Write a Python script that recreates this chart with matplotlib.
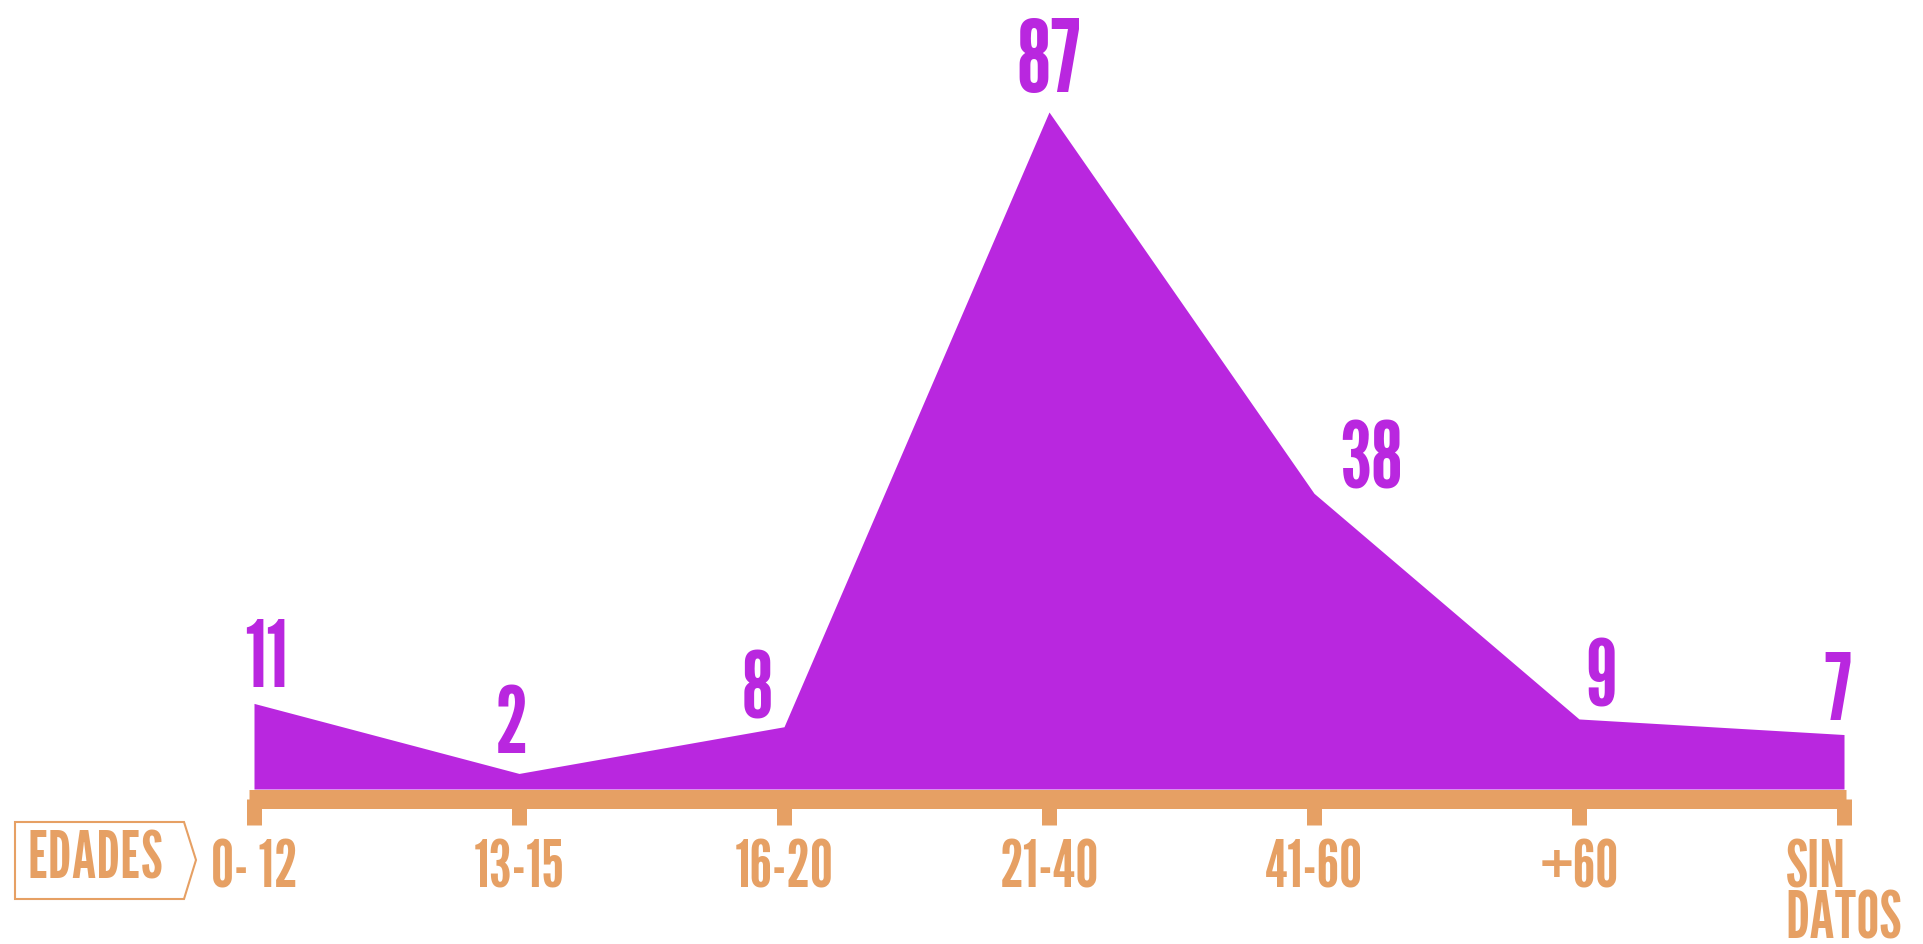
import matplotlib
matplotlib.use("Agg")
import matplotlib.pyplot as plt
from matplotlib.patches import Polygon
from matplotlib.transforms import IdentityTransform

# ---- data ----
categories = ["0- 12", "13-15", "16-20", "21-40", "41-60", "+60", "SIN\nDATOS"]
values = [11, 2, 8, 87, 38, 9, 7]
axis_title = "EDADES"

# ---- style ----
PURPLE = "#B927DF"
ORANGE = "#E6A064"
FONT = ["League Gothic", "Bebas Neue", "DejaVu Sans"]
plt.rcParams["font.family"] = FONT

W, H, DPI = 1923, 945, 100
fig = plt.figure(figsize=(W / DPI, H / DPI), dpi=DPI)
ax = fig.add_axes([0, 0, 1, 1])

px_x = 265.0          # pixels per category step
px_y = 677.0 / 87.0   # pixels per unit value
x0_px, base_px = 254.0, 155.0  # first category, baseline (from bottom)
ax.set_xlim(-x0_px / px_x, (W - x0_px) / px_x)
ax.set_ylim(-base_px / px_y, (H - base_px) / px_y)

x = list(range(len(values)))
ax.fill_between(x, 0, values, color=PURPLE, linewidth=0, zorder=2)

# orange axis bar + ticks
for s in ["top", "left", "right"]:
    ax.spines[s].set_visible(False)
sp = ax.spines["bottom"]
sp.set_position(("data", -10 / px_y))
sp.set_linewidth(19 * 72 / DPI)
sp.set_color(ORANGE)
sp.set_capstyle("butt")
sp.set_bounds(x[0] - 5 / px_x, x[-1] + 2 / px_x)
ax.set_yticks([])
ax.set_xticks(x)
ax.set_xticklabels(categories, fontsize=47, color=ORANGE,
                   linespacing=0.8, multialignment="left")
ax.tick_params(axis="x", direction="out", length=26 * 72 / DPI,
               width=15 * 72 / DPI, color=ORANGE, pad=10)
ax.patch.set_alpha(0)

# value labels (offsets in pixels from data point)
offsets = [(12, 17), (-8, 21), (-27, 9), (0, 21), (57, 6), (22, 13), (-7, 16)]
sizes = [66, 66, 66, 72, 66, 66, 66]
for xi, v, (dx, dy), fs in zip(x, values, offsets, sizes):
    ax.annotate(str(v), (xi, v), xytext=(dx, dy), textcoords="offset pixels",
                ha="center", va="baseline", fontsize=fs,
                color=PURPLE, zorder=3)

# EDADES tag (pixel coordinates from bottom-left)
tag = Polygon([(15, 45), (184, 45), (196, 84), (184, 122), (15, 122)],
              closed=True, facecolor="none", edgecolor=ORANGE, linewidth=1.5,
              transform=IdentityTransform())
fig.add_artist(tag)
fig.text(95 / W, 84 / H, axis_title, ha="center", va="center", fontsize=46,
         color=ORANGE)

fig.savefig("out.png", dpi=DPI, facecolor="white")
